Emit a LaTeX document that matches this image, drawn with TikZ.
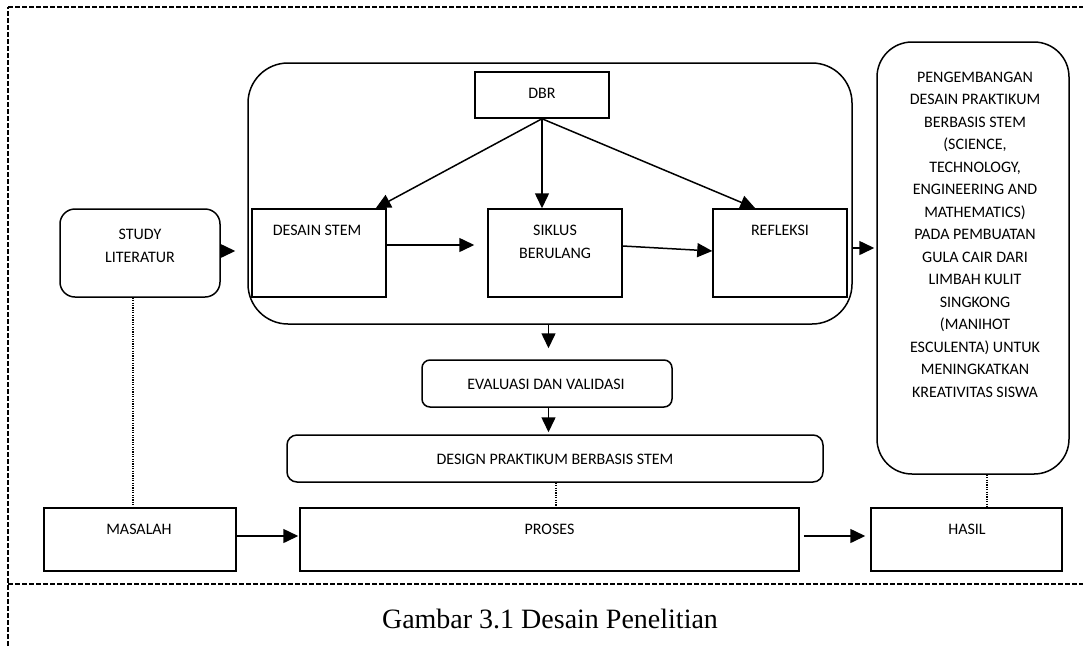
\documentclass[tikz,border=0pt]{standalone}
\usepackage{fontspec}
\newfontfamily\calib{Carlito}
\newfontfamily\tnr{Liberation Serif}
\usetikzlibrary{arrows.meta}
\begin{document}
\begin{tikzpicture}[x=1pt,y=-1pt,
  sqbox/.style={draw, line width=1.5pt, inner sep=0pt, rectangle},
  rbox/.style={sqbox, rounded corners=#1},
  txt/.style={font=\calib\fontsize{16}{22.5}\selectfont, inner sep=0pt, align=center, anchor=base},
  arr/.style={line width=1.5pt, -{Triangle[length=15pt,width=14pt]}},
  dots/.style={line width=1.2pt, dash pattern=on 1.2pt off 1.2pt},
  framedash/.style={line width=1.8pt, dash pattern=on 5pt off 2pt}]
\useasboundingbox (0,0) rectangle (1083,646);
% frame
\draw[framedash] (8,646) -- (8,7);
\draw[framedash] (8,7) -- (1083,7);
\draw[framedash] (8,584) -- (1083,584);
% boxes
\node[rbox=40pt, minimum width=604pt, minimum height=261pt] (ct) at (550,193.5) {};
\node[sqbox, minimum width=134pt, minimum height=46pt] (db) at (542,95) {};
\node[sqbox, minimum width=134pt, minimum height=88pt] (ds) at (319,253) {};
\node[sqbox, minimum width=134pt, minimum height=88pt] (sk) at (555,253) {};
\node[sqbox, minimum width=134pt, minimum height=88pt] (rf) at (780,253) {};
\node[rbox=15pt, minimum width=160pt, minimum height=88pt] (sl) at (140,253) {};
\node[rbox=35pt, minimum width=192pt, minimum height=432pt] (rb) at (973,258) {};
\node[rbox=8pt, minimum width=250pt, minimum height=47pt] (ev) at (547,383.5) {};
\node[rbox=10pt, minimum width=536pt, minimum height=47pt] (dp) at (555,458.5) {};
\node[sqbox, minimum width=192pt, minimum height=63pt] (ms) at (140,539.5) {};
\node[sqbox, minimum width=499pt, minimum height=63pt] (pr) at (549.5,539.5) {};
\node[sqbox, minimum width=191pt, minimum height=63pt] (hs) at (966.5,539.5) {};
% texts (anchor = baseline of last line)
\node[txt] (tdb) at (542,98) {DBR};
\node[txt] (tds) at (317,235) {DESAIN STEM};
\node[txt] (tsk) at (555,258) {SIKLUS\\BERULANG};
\node[txt] (trf) at (780,235) {REFLEKSI};
\node[txt] (tsl) at (140,262) {STUDY\\LITERATUR};
\node[txt] (tev) at (546,389) {EVALUASI DAN VALIDASI};
\node[txt] (tdp) at (555,464) {DESIGN PRAKTIKUM BERBASIS STEM};
\node[txt] (tms) at (139,534) {MASALAH};
\node[txt] (tpr) at (549.5,534) {PROSES};
\node[txt] (ths) at (967,534) {HASIL};
\node[txt] (trb) at (975,397) {PENGEMBANGAN\\DESAIN PRAKTIKUM\\BERBASIS STEM\\(SCIENCE,\\TECHNOLOGY,\\ENGINEERING AND\\MATHEMATICS)\\PADA PEMBUATAN\\GULA CAIR DARI\\LIMBAH KULIT\\SINGKONG\\(MANIHOT\\ESCULENTA) UNTUK\\MENINGKATKAN\\KREATIVITAS SISWA};
\node[font=\tnr\fontsize{28}{34}\selectfont, anchor=base, inner sep=0pt] (cap) at (550,628) {Gambar 3.1 Desain Penelitian};
% arrows
\draw[arr] (db.south) -- ([xshift=-11pt]ds.north east);
\draw[arr] (db.south) -- (db.south |- sk.north);
\draw[arr] (db.south) -- ([xshift=43pt]rf.north west);
\draw[arr, shorten >=13pt] ([yshift=8pt]ds.east) -- ([yshift=8pt]ds.east -| sk.west);
\draw[arr] ([yshift=7pt]sk.east) -- ([yshift=2pt]rf.west);
\draw[arr, shorten >=12pt] ([yshift=2pt]sl.east) -- ([yshift=2pt]sl.east -| ct.west);
\draw[arr, shorten >=2pt] ([yshift=-54.5pt]ct.east) -- ([yshift=-54.5pt]ct.east -| rb.west);
\draw[arr, shorten >=11pt] ([xshift=1.5pt]ev.north |- ct.south) -- ([xshift=1.5pt]ev.north);
\draw[arr, shorten >=2pt] ([xshift=1.5pt]ev.south) -- ([xshift=1.5pt]ev.south |- dp.north);
\draw[arr, shorten >=1pt] ([yshift=3.5pt]ms.east) -- ([yshift=3.5pt]ms.east -| pr.west);
\draw[arr, shorten <=4pt, shorten >=5pt] ([yshift=3.5pt]pr.east) -- ([yshift=3.5pt]pr.east -| hs.west);
% dotted links
\draw[dots] ([xshift=-7pt]sl.south) -- ([xshift=-7pt]sl.south |- ms.north);
\draw[dots] ([xshift=1pt]dp.south) -- ([xshift=1pt]dp.south |- pr.north);
\draw[dots] ([xshift=14pt]rb.south) -- ([xshift=14pt]rb.south |- hs.north);
\end{tikzpicture}
\end{document}
